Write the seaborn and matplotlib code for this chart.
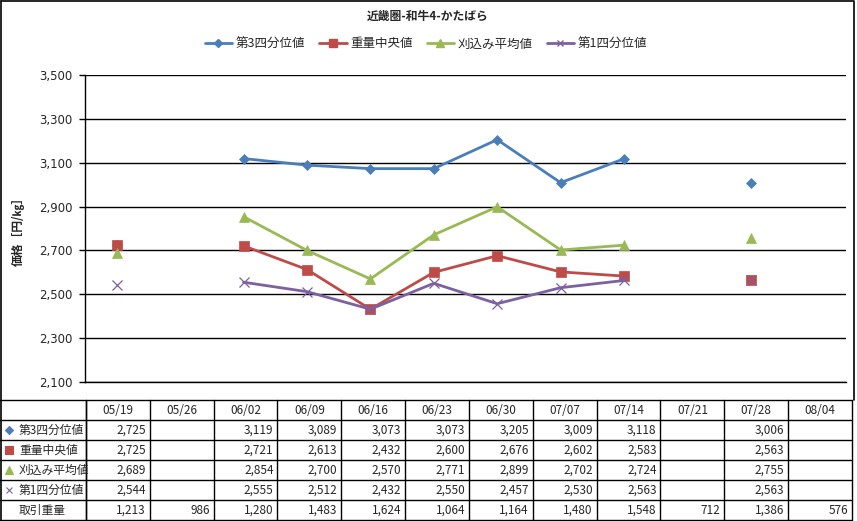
import numpy as np
import pandas as pd
import matplotlib
matplotlib.use("Agg")
import matplotlib.pyplot as plt
from matplotlib.lines import Line2D
import seaborn as sns

weeks = ["05/19", "05/26", "06/02", "06/09", "06/16", "06/23",
         "06/30", "07/07", "07/14", "07/21", "07/28", "08/04"]
q3 = [2725, np.nan, 3119, 3089, 3073, 3073, 3205, 3009, 3118, np.nan, 3006, np.nan]
median = [2725, np.nan, 2721, 2613, 2432, 2600, 2676, 2602, 2583, np.nan, 2563, np.nan]
trim_avg = [2689, np.nan, 2854, 2700, 2570, 2771, 2899, 2702, 2724, np.nan, 2755, np.nan]
q1 = [2544, np.nan, 2555, 2512, 2432, 2550, 2457, 2530, 2563, np.nan, 2563, np.nan]
volume = [1213, 986, 1280, 1483, 1624, 1064, 1164, 1480, 1548, 712, 1386, 576]

names = ["第3四分位値", "重量中央値", "刈込み平均値", "第1四分位値"]
volume_name = "取引重量"
colors = ["#4A7EBB", "#BE4B48", "#98B954", "#7D60A0"]
markers = ["D", "s", "^", "x"]
msizes = [5.5, 7.5, 7.5, 6.5]

sns.set_theme(style="white")
plt.rcParams["font.family"] = ["Noto Sans CJK JP", "DejaVu Sans"]
plt.rcParams["axes.unicode_minus"] = False

W, H = 857, 521
fig = plt.figure(figsize=(W / 100, H / 100), dpi=100)

# main plot area (pixel box 85..846 x 75..382)
ax = fig.add_axes([85 / W, (H - 382) / H, (846 - 85) / W, (382 - 75) / H])


def segments(vals):
    df = pd.DataFrame({"x": np.arange(len(vals)), "y": vals})
    df["seg"] = df["y"].isna().cumsum()
    return df.dropna()


all_series = [q3, median, trim_avg, q1]
for vals, c, m, ms in zip(all_series, colors, markers, msizes):
    sns.lineplot(data=segments(vals), x="x", y="y", units="seg", estimator=None,
                 color=c, marker=m, markersize=ms, linewidth=2.0,
                 markeredgecolor=c, markeredgewidth=0.9 if m == "x" else 0.5,
                 legend=False, ax=ax)

ax.set_xlim(-0.5, len(weeks) - 0.5)
ax.set_ylim(2100, 3500)
ax.set_yticks(np.arange(2100, 3501, 200))
ax.set_yticklabels([f"{v:,}" for v in range(2100, 3501, 200)], fontsize=8.5,
                   family="DejaVu Sans")
ax.set_xticks([])
ax.set_xlabel("")
ax.set_ylabel("")
ax.grid(axis="y", color="black", linewidth=1.0)
ax.set_axisbelow(True)
for side in ["top", "right"]:
    ax.spines[side].set_visible(False)
ax.spines["left"].set_color("black")
ax.spines["bottom"].set_color("black")
ax.spines["left"].set_linewidth(1.0)
ax.spines["bottom"].set_linewidth(1.0)
ax.tick_params(axis="y", direction="out", length=4, width=1, color="black",
               left=True, pad=5)
ax.patch.set_alpha(0)

# overlay in pixel coordinates for title, label, table and border
ov = fig.add_axes([0, 0, 1, 1], zorder=-1)
ov.set_xlim(0, W)
ov.set_ylim(H, 0)
ov.axis("off")

ov.text(428, 16, "近畿圏-和牛4-かたばら", ha="center", va="center",
        fontsize=8.5, fontweight="bold")
ov.text(18, 228, "価格［円/㎏］", ha="center", va="center", rotation=90,
        fontsize=8.5, fontweight="bold")

handles = [Line2D([], [], color=c, marker=m, markersize=ms * 0.75, linewidth=2.0,
                  markeredgecolor=c) for c, m, ms in zip(colors, markers, msizes)]
fig.legend(handles, names, loc="center", bbox_to_anchor=(426 / W, 1 - 44 / H),
           ncol=4, frameon=False, fontsize=9, handlelength=2.2,
           columnspacing=1.1, handletextpad=0.3)

# data table
label_w = 86
right = 852
col_w = (right - label_w) / len(weeks)
row_tops = [400, 420, 440, 460, 480, 500, 520]

for y in row_tops:
    ov.plot([0, right], [y, y], color="black", linewidth=1.0)
ov.plot([label_w, label_w], [400, 520], color="black", linewidth=1.0)
for i in range(len(weeks) + 1):
    x = label_w + i * col_w
    ov.plot([x, x], [400, 520], color="black", linewidth=1.0)

for i, wk in enumerate(weeks):
    ov.text(label_w + (i + 0.5) * col_w, 410, wk, ha="center", va="center",
            fontsize=8.5)

rows = all_series + [volume]
row_names = names + [volume_name]
for r, (vals, nm) in enumerate(zip(rows, row_names)):
    yc = row_tops[r + 1] + 10
    if r < 4:
        ov.plot(9, yc, marker=markers[r], color=colors[r], markeredgecolor=colors[r],
                markersize=msizes[r] * 0.75, markeredgewidth=0.8, linestyle="none")
    ov.text(19, yc, nm, ha="left", va="center", fontsize=8.5)
    for i, v in enumerate(vals):
        if not np.isnan(v):
            ov.text(label_w + (i + 1) * col_w - 4, yc, f"{int(v):,}",
                    ha="right", va="center", fontsize=8.5)

# outer chart border
ov.plot([1, 854, 854], [1, 1, 400], color="black", linewidth=1.2)
ov.plot([1, 1], [1, 520], color="black", linewidth=1.2)

fig.savefig("out.png", dpi=100, facecolor="white")
